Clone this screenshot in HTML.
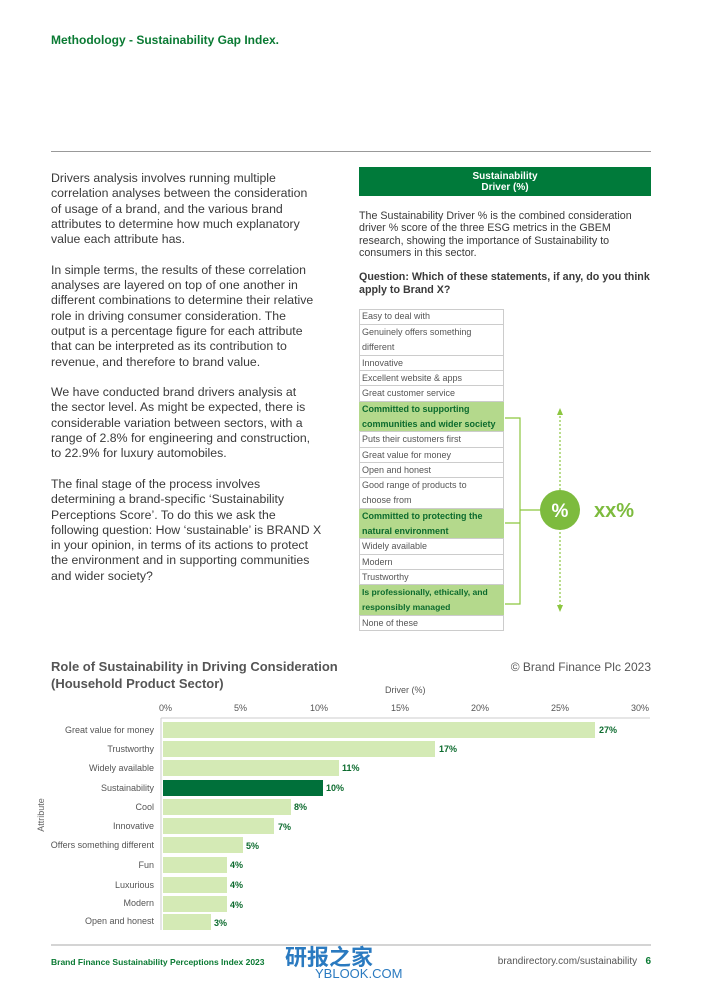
<!DOCTYPE html><html><head><style>
*{margin:0;padding:0;box-sizing:border-box}
body{width:702px;height:991px;background:#fff;position:relative;font-family:"Liberation Sans",sans-serif;color:#444;overflow:hidden}
.a{position:absolute}
.p{font-size:12.3px;line-height:15.3px;color:#3a3a3a;white-space:nowrap}
.row{position:absolute;left:359px;width:145px;border-bottom:1px solid #ccc;font-size:9px;line-height:15.2px;padding-left:3px;padding-right:6px;color:#555}
.g{background:#b4d98c;color:#0c6b2e;font-weight:bold}
.lab{position:absolute;right:548px;font-size:9px;color:#555;text-align:right;white-space:nowrap}
.bar{position:absolute;left:163px;height:16px;background:#d4eab5}
.val{position:absolute;font-size:9px;font-weight:bold;color:#0c6b2e}
.tk{position:absolute;top:703px;font-size:9px;color:#555}
</style></head><body>
<div class="a" style="left:51px;top:33px;font-size:12px;font-weight:bold;color:#0a7a33">Methodology - Sustainability Gap Index.</div>
<div class="a" style="left:51px;top:151px;width:600px;height:1px;background:#999"></div>
<div class="a p" style="left:51px;top:171px">Drivers analysis involves running multiple<br>correlation analyses between the consideration<br>of usage of a brand, and the various brand<br>attributes to determine how much explanatory<br>value each attribute has.<br><br>In simple terms, the results of these correlation<br>analyses are layered on top of one another in<br>different combinations to determine their relative<br>role in driving consumer consideration. The<br>output is a percentage figure for each attribute<br>that can be interpreted as its contribution to<br>revenue, and therefore to brand value.<br><br>We have conducted brand drivers analysis at<br>the sector level. As might be expected, there is<br>considerable variation between sectors, with a<br>range of 2.8% for engineering and construction,<br>to 22.9% for luxury automobiles.<br><br>The final stage of the process involves<br>determining a brand-specific ‘Sustainability<br>Perceptions Score’. To do this we ask the<br>following question: How ‘sustainable’ is BRAND X<br>in your opinion, in terms of its actions to protect<br>the environment and in supporting communities<br>and wider society?</div>
<div class="a" style="left:359px;top:167px;width:292px;height:29px;background:#007a3a;color:#fff;font-size:10px;font-weight:bold;text-align:center;line-height:11px;padding-top:4px">Sustainability<br>Driver (%)</div>
<div class="a" style="left:359px;top:210px;white-space:nowrap;font-size:10.7px;line-height:12.3px;color:#3a3a3a">The Sustainability Driver % is the combined consideration<br>driver % score of the three ESG metrics in the GBEM<br>research, showing the importance of Sustainability to<br>consumers in this sector.<br><br><b>Question: Which of these statements, if any, do you think<br>apply to Brand X?</b></div>
<div class="a" style="left:359px;top:309px;width:145px;height:322px;border:1px solid #ccc"></div>
<div class="row" style="top:309px;height:16px">Easy to deal with</div>
<div class="row" style="top:325px;height:31px">Genuinely offers something different</div>
<div class="row" style="top:356px;height:15px">Innovative</div>
<div class="row" style="top:371px;height:15px">Excellent website &amp; apps</div>
<div class="row" style="top:386px;height:16px">Great customer service</div>
<div class="row g" style="top:402px;height:30px;padding-right:0">Committed to supporting communities and wider society</div>
<div class="row" style="top:432px;height:16px">Puts their customers first</div>
<div class="row" style="top:448px;height:15px">Great value for money</div>
<div class="row" style="top:463px;height:15px">Open and honest</div>
<div class="row" style="top:478px;height:31px;padding-right:14px">Good range of products to choose from</div>
<div class="row g" style="top:509px;height:30px">Committed to protecting the natural environment</div>
<div class="row" style="top:539px;height:16px">Widely available</div>
<div class="row" style="top:555px;height:15px">Modern</div>
<div class="row" style="top:570px;height:15px">Trustworthy</div>
<div class="row g" style="top:585px;height:31px;font-size:8.6px">Is professionally, ethically, and responsibly managed</div>
<div class="row" style="top:616px;height:15px;border-bottom:none">None of these</div>
<svg class="a" style="left:0;top:0" width="702" height="991">
<g stroke="#8cc63f" stroke-width="1.2" fill="none">
<path d="M505 418H520V604H505M505 523H520M520 510H540"/>
<path d="M560 412V608" stroke-dasharray="2 2"/>
</g>
<path d="M560 408l-3 7h6zM560 612l-3 -7h6z" fill="#8cc63f"/>
<circle cx="560" cy="510" r="20" fill="#7dbb3e"/>
<text x="560" y="517" fill="#fff" font-size="19" font-weight="bold" text-anchor="middle" font-family="Liberation Sans">%</text>
<text x="594" y="517" fill="#7dbb3e" font-size="20" font-weight="bold" font-family="Liberation Sans">xx%</text>
<line x1="161" y1="718" x2="650" y2="718" stroke="#ccc"/>
<line x1="161" y1="718" x2="161" y2="930" stroke="#ccc"/>
<line x1="51" y1="945" x2="651" y2="945" stroke="#aaa"/>
<text transform="translate(44 815) rotate(-90)" font-size="9" fill="#666" text-anchor="middle" font-family="Liberation Sans">Attribute</text>
</svg>
<div class="a" style="left:51px;top:658px;font-size:13px;font-weight:bold;line-height:17px;color:#555">Role of Sustainability in Driving Consideration<br>(Household Product Sector)</div>
<div class="a" style="right:51px;top:660px;font-size:12px;color:#555">© Brand Finance Plc 2023</div>
<div class="a" style="left:385px;top:685px;font-size:9px;color:#555">Driver (%)</div>
<div class="tk" style="left:159px">0%</div><div class="tk" style="left:234px">5%</div><div class="tk" style="left:310px">10%</div><div class="tk" style="left:391px">15%</div><div class="tk" style="left:471px">20%</div><div class="tk" style="left:551px">25%</div><div class="tk" style="left:631px">30%</div>
<div class="lab" style="top:725px">Great value for money</div><div class="bar" style="top:722px;width:432px"></div><div class="val" style="left:599px;top:725px">27%</div>
<div class="lab" style="top:744px">Trustworthy</div><div class="bar" style="top:741px;width:272px"></div><div class="val" style="left:439px;top:744px">17%</div>
<div class="lab" style="top:763px">Widely available</div><div class="bar" style="top:760px;width:176px"></div><div class="val" style="left:342px;top:763px">11%</div>
<div class="lab" style="top:783px">Sustainability</div><div class="bar" style="top:780px;width:160px;background:#00703a"></div><div class="val" style="left:326px;top:783px">10%</div>
<div class="lab" style="top:802px">Cool</div><div class="bar" style="top:799px;width:128px"></div><div class="val" style="left:294px;top:802px">8%</div>
<div class="lab" style="top:821px">Innovative</div><div class="bar" style="top:818px;width:111px"></div><div class="val" style="left:278px;top:822px">7%</div>
<div class="lab" style="top:840px">Offers something different</div><div class="bar" style="top:837px;width:80px"></div><div class="val" style="left:246px;top:841px">5%</div>
<div class="lab" style="top:860px">Fun</div><div class="bar" style="top:857px;width:64px"></div><div class="val" style="left:230px;top:860px">4%</div>
<div class="lab" style="top:880px">Luxurious</div><div class="bar" style="top:877px;width:64px"></div><div class="val" style="left:230px;top:880px">4%</div>
<div class="lab" style="top:898px">Modern</div><div class="bar" style="top:896px;width:64px"></div><div class="val" style="left:230px;top:900px">4%</div>
<div class="lab" style="top:916px">Open and honest</div><div class="bar" style="top:914px;width:48px"></div><div class="val" style="left:214px;top:918px">3%</div>
<div class="a" style="left:51px;top:957px;font-size:8.5px;font-weight:bold;color:#0a7a33">Brand Finance Sustainability Perceptions Index 2023</div>
<div class="a" style="left:285px;top:940px;font-size:22px;font-weight:bold;color:#2a7ac0;font-family:'Liberation Sans','Noto Sans CJK SC',sans-serif">研报之家</div>
<div class="a" style="left:315px;top:966px;font-size:13px;color:#2a7ac0">YBLOOK.COM</div>
<div class="a" style="right:51px;top:956px;font-size:10px;color:#555">brandirectory.com/sustainability &nbsp; <b style="color:#0a7a33">6</b></div>
</body></html>
